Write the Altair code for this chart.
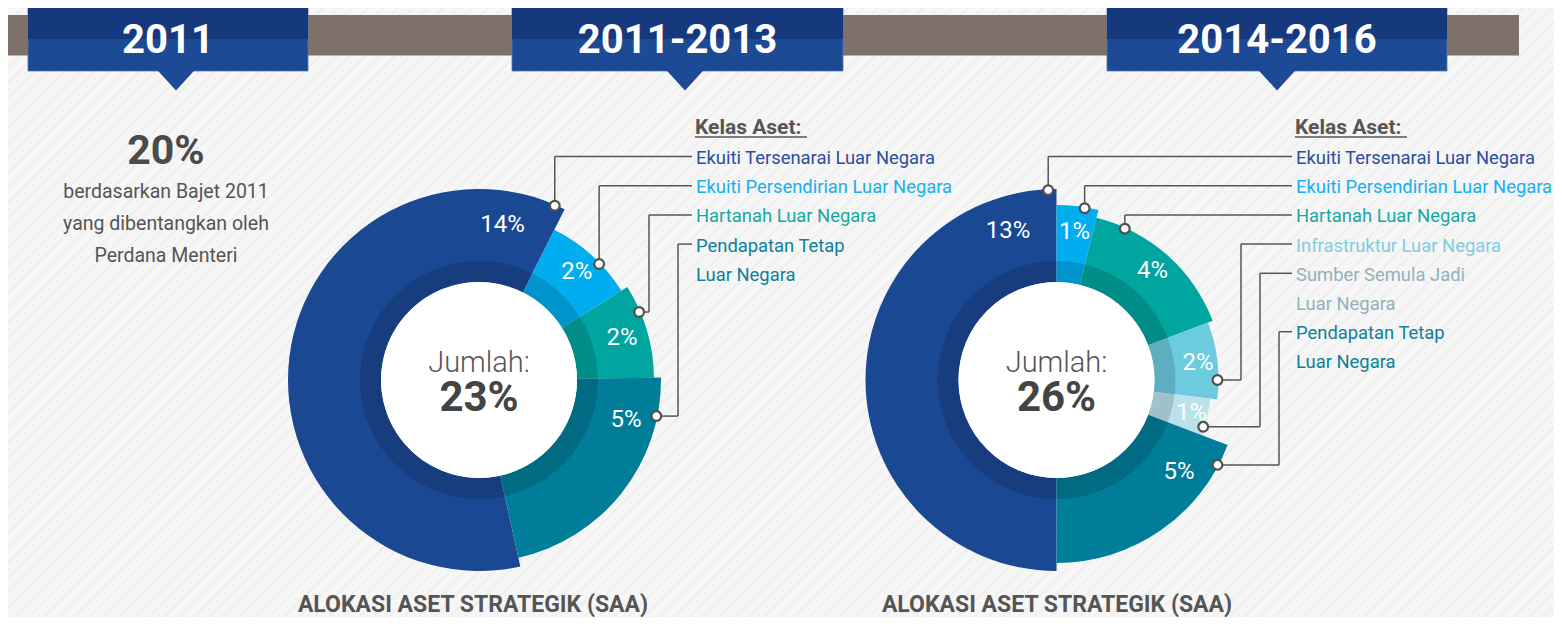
import math
import altair as alt
import pandas as pd

# ---------------- data ----------------
PANEL_TITLES = ["2011", "2011-2013", "2014-2016"]
TARGET_PCT = "20%"
TARGET_NOTE = ["berdasarkan Bajet 2011", "yang dibentangkan oleh", "Perdana Menteri"]

CATS_1 = ["Ekuiti Tersenarai Luar Negara", "Ekuiti Persendirian Luar Negara",
          "Hartanah Luar Negara", "Pendapatan Tetap Luar Negara"]
VALS_1 = [14, 2, 2, 5]

CATS_2 = ["Ekuiti Tersenarai Luar Negara", "Ekuiti Persendirian Luar Negara",
          "Hartanah Luar Negara", "Infrastruktur Luar Negara",
          "Sumber Semula Jadi Luar Negara", "Pendapatan Tetap Luar Negara"]
VALS_2 = [13, 1, 4, 2, 1, 5]

LEGEND_TITLE = "Kelas Aset:"
TOTAL_LABEL = "Jumlah:"
FOOTER = "ALOKASI ASET STRATEGIK (SAA)"
WRAP = {"Pendapatan Tetap Luar Negara": ["Pendapatan Tetap", "Luar Negara"],
        "Sumber Semula Jadi Luar Negara": ["Sumber Semula Jadi", "Luar Negara"]}

# ---------------- style / layout ----------------
FONT = "Roboto, DejaVu Sans Condensed, sans-serif"
BG = "#f6f6f6"
SLICE_COLOR = {
    CATS_2[0]: "#1b4893", CATS_2[1]: "#00adef", CATS_2[2]: "#00a59f",
    CATS_2[3]: "#6dcbe0", CATS_2[4]: "#b9e2eb", CATS_2[5]: "#007d99",
}
TEXT_COLOR = {
    CATS_2[0]: "#2b4f9e", CATS_2[1]: "#16b0f0", CATS_2[2]: "#17a8a3",
    CATS_2[3]: "#7fcde0", CATS_2[4]: "#93b1ba", CATS_2[5]: "#0f8099",
}
OFF = 8  # page margin
W, H = 1546, 609


def px(v):
    return v - OFF


DONUTS = [
    dict(cats=CATS_1, vals=VALS_1, cx=479, cy=380, rot=167.5,
         rout={CATS_1[0]: 191, CATS_1[1]: 168, CATS_1[2]: 175, CATS_1[3]: 182},
         dot={CATS_1[0]: 23.5, CATS_1[1]: 46, CATS_1[2]: 67, CATS_1[3]: 101.5},
         elbow={CATS_1[2]: 649, CATS_1[3]: 678},
         legx=696, footer_x=473),
    dict(cats=CATS_2, vals=VALS_2, cx=1056.5, cy=380, rot=180,
         rout={CATS_2[0]: 191, CATS_2[1]: 175, CATS_2[2]: 167, CATS_2[3]: 162,
               CATS_2[4]: 155, CATS_2[5]: 183},
         dot={CATS_2[0]: 357.5, CATS_2[1]: 9.3, CATS_2[2]: 24.3, CATS_2[3]: 90,
              CATS_2[4]: 107.7, CATS_2[5]: 117.8},
         elbow={CATS_2[3]: 1241, CATS_2[4]: 1260, CATS_2[5]: 1279},
         legx=1296, footer_x=1057),
]
R_IN = 98
R_RING = 119
ROW0 = 164
ROW_H = 29.2

ANG = alt.Scale(domain=[0, 360], range=[0, 2 * math.pi], nice=False, zero=False)
XI = dict(scale=None, axis=None)

layers = []

# ---------------- background stripes ----------------
stripes = []
for c in range(-700, 1600, 15):
    stripes.append(dict(x=px(c), y=px(641), x2=px(c + 651), y2=px(-10)))
layers.append(
    alt.Chart(pd.DataFrame(stripes)).mark_rule(color="#ededed", strokeWidth=1.6).encode(
        x=alt.X("x:Q", **XI), y=alt.Y("y:Q", **XI),
        x2="x2:Q", y2="y2:Q")
)

# ---------------- top band ----------------
layers.append(alt.Chart(pd.DataFrame({"a": [0]})).mark_rect(color="#7d7169").encode(
    x=alt.value(px(7)), x2=alt.value(px(1519)), y=alt.value(px(15)), y2=alt.value(px(55.5))))

# ---------------- banners ----------------
BANNERS = [(28, 308, 176), (512, 843, 685), (1107, 1447, 1277)]
for (x0, x1, tip), title in zip(BANNERS, PANEL_TITLES):
    base = alt.Chart(pd.DataFrame({"t": [title]}))
    layers.append(base.mark_rect(color="#1c4a95", stroke="#5577b5", strokeWidth=0.8).encode(
        x=alt.value(px(x0)), x2=alt.value(px(x1)), y=alt.value(px(5)), y2=alt.value(px(71))))
    layers.append(base.mark_rect(color="#16397e").encode(
        x=alt.value(px(x0)), x2=alt.value(px(x1)), y=alt.value(px(5)), y2=alt.value(px(39))))
    layers.append(base.mark_point(shape="M -1 -0.06 L 1 -0.06 L 0 1.02 Z", filled=True,
                                  color="#1c4a95", size=38 * 38, opacity=1).encode(
        x=alt.value(px(tip)), y=alt.value(px(71))))
    layers.append(base.mark_text(font=FONT, fontSize=40, fontWeight="bold", color="white",
                                 align="center", baseline="alphabetic").encode(
        x=alt.value(px((x0 + x1) / 2)), y=alt.value(px(52.5)), text="t:N"))

# ---------------- left note ----------------
layers.append(alt.Chart(pd.DataFrame({"t": [TARGET_PCT]})).mark_text(
    font=FONT, fontSize=41, fontWeight="bold", color="#4a4a4a", align="center",
    baseline="alphabetic").encode(x=alt.value(px(166)), y=alt.value(px(164)), text="t:N"))
note_df = pd.DataFrame({"t": TARGET_NOTE, "i": list(range(len(TARGET_NOTE)))})
layers.append(alt.Chart(note_df).mark_text(
    font=FONT, fontSize=19.5, color="#555555", align="center", baseline="alphabetic").encode(
    x=alt.value(px(166)), y=alt.Y("i:Q", scale=alt.Scale(domain=[0, 2], range=[px(198), px(262)]), axis=None),
    text="t:N"))

# ---------------- donuts ----------------
for d in DONUTS:
    cats, vals = d["cats"], d["vals"]
    total = sum(vals)
    rows = []
    a = d["rot"]
    for i, (c, v) in enumerate(zip(cats, vals)):
        span = v / total * 360.0
        a0, a1 = a, a + span
        a = a1
        if span <= 60:
            lab = (a0 + a1) / 2
        elif i == 0:
            lab = a1 - 18
        else:
            lab = a0 + 16
        rows.append(dict(cat=c, val=v, a0=a0, a1=a1, lab=lab, label=f"{v}%",
                         rout=d["rout"][c], lr=(R_RING + d["rout"][c]) / 2 + 2))
    df = pd.DataFrame(rows)
    cx, cy = px(d["cx"]), px(d["cy"])
    color = alt.Color("cat:N", scale=alt.Scale(domain=list(SLICE_COLOR.keys()),
                                               range=list(SLICE_COLOR.values())), legend=None)
    base = alt.Chart(df)
    layers.append(base.mark_arc(innerRadius=R_IN).encode(
        x=alt.value(cx), y=alt.value(cy),
        theta=alt.Theta("a0:Q", scale=ANG, stack=False), theta2="a1:Q",
        radius=alt.Radius("rout:Q", scale=None), color=color))
    # darker inner ring
    one = alt.Chart(pd.DataFrame({"a": [0]}))
    layers.append(one.mark_arc(innerRadius=R_IN, outerRadius=R_RING, theta=0,
                               theta2=2 * math.pi, color="#000000", opacity=0.14).encode(
        x=alt.value(cx), y=alt.value(cy)))
    layers.append(one.mark_arc(innerRadius=0, outerRadius=R_IN, theta=0,
                               theta2=2 * math.pi, color="#ffffff").encode(
        x=alt.value(cx), y=alt.value(cy)))
    # slice labels
    layers.append(base.mark_text(font=FONT, fontSize=24, color="white", align="center",
                                 baseline="middle").encode(
        x=alt.value(cx), y=alt.value(cy),
        theta=alt.Theta("lab:Q", scale=ANG, stack=False),
        radius=alt.Radius("lr:Q", scale=None), text="label:N"))
    # centre totals
    ctr = alt.Chart(pd.DataFrame({"t": [TOTAL_LABEL], "s": [f"{total}%"]}))
    layers.append(ctr.mark_text(font=FONT, fontSize=29, fontWeight=300, color="#555555",
                                align="center", baseline="alphabetic").encode(
        x=alt.value(cx), y=alt.value(cy - 8), text="t:N"))
    layers.append(ctr.mark_text(font=FONT, fontSize=42, fontWeight="bold", color="#444444",
                                align="center", baseline="alphabetic").encode(
        x=alt.value(cx), y=alt.value(cy + 30.5), text="s:N"))

    # legend
    legx = d["legx"]
    leg_rows = []
    row_y = {}
    r = 0
    for c in cats:
        lines = WRAP.get(c, [c])
        row_y[c] = ROW0 + r * ROW_H
        for ln in lines:
            leg_rows.append(dict(t=ln, cat=c, y=px(ROW0 + r * ROW_H)))
            r += 1
    layers.append(alt.Chart(pd.DataFrame(leg_rows)).mark_text(
        font=FONT, fontSize=18.4, align="left", baseline="alphabetic").encode(
        x=alt.value(px(legx)), y=alt.Y("y:Q", **XI), text="t:N",
        color=alt.Color("cat:N", scale=alt.Scale(domain=list(TEXT_COLOR.keys()),
                                                 range=list(TEXT_COLOR.values())), legend=None)))
    layers.append(alt.Chart(pd.DataFrame({"t": [LEGEND_TITLE]})).mark_text(
        font=FONT, fontSize=21, fontWeight="bold", color="#555555", align="left",
        baseline="alphabetic").encode(x=alt.value(px(legx - 1)), y=alt.value(px(133.5)), text="t:N"))
    layers.append(alt.Chart(pd.DataFrame({"a": [0]})).mark_rule(color="#555555", strokeWidth=1.6).encode(
        x=alt.value(px(legx - 1)), x2=alt.value(px(legx + 111)), y=alt.value(px(137)), y2=alt.value(px(137))))

    # leader lines + dots
    segs, dots = [], []
    for c in cats:
        ang = math.radians(d["dot"][c])
        rr = d["rout"][c] - 1
        dx = d["cx"] + rr * math.sin(ang)
        dy = d["cy"] - rr * math.cos(ang)
        ly = row_y[c] - 7.5
        ex = d["elbow"].get(c)
        if ex is None:
            segs.append(dict(x=px(dx), y=px(dy), x2=px(dx), y2=px(ly)))
            segs.append(dict(x=px(dx), y=px(ly), x2=px(legx - 4), y2=px(ly)))
        else:
            segs.append(dict(x=px(dx), y=px(dy), x2=px(ex), y2=px(dy)))
            segs.append(dict(x=px(ex), y=px(dy), x2=px(ex), y2=px(ly)))
            segs.append(dict(x=px(ex), y=px(ly), x2=px(legx - 4), y2=px(ly)))
        dots.append(dict(x=px(dx), y=px(dy)))
    layers.append(alt.Chart(pd.DataFrame(segs)).mark_rule(color="#555555", strokeWidth=1.5).encode(
        x=alt.X("x:Q", **XI), y=alt.Y("y:Q", **XI), x2="x2:Q", y2="y2:Q"))
    layers.append(alt.Chart(pd.DataFrame(dots)).mark_point(
        shape="circle", fill="white", fillOpacity=1, stroke="#505050", strokeWidth=2.2,
        size=95, opacity=1).encode(x=alt.X("x:Q", **XI), y=alt.Y("y:Q", **XI)))

    # footer
    layers.append(alt.Chart(pd.DataFrame({"t": [FOOTER]})).mark_text(
        font=FONT, fontSize=23, fontWeight="bold", color="#555555", align="center",
        baseline="alphabetic").encode(x=alt.value(px(d["footer_x"])), y=alt.value(px(612)), text="t:N"))

chart = alt.layer(*layers).resolve_scale(color="independent").properties(
    width=W, height=H,
    autosize=alt.AutoSizeParams(type="none"), padding=0, background=BG,
).configure_view(stroke=None)

chart.save("out.html", embed_options={"renderer": "svg", "actions": False})
